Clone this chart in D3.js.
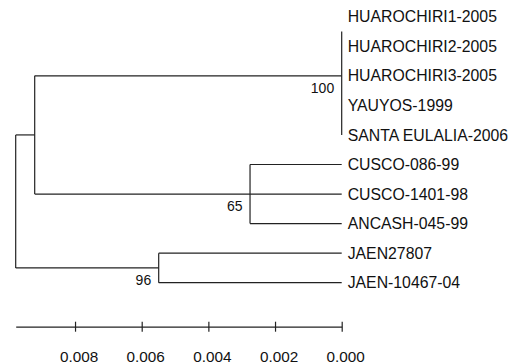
<!DOCTYPE html>
<html>
<head>
<meta charset="utf-8">
<script src="https://cdn.jsdelivr.net/npm/d3@7"></script>
<style>
  body { margin: 0; background: #fff; }
  svg { display: block; font-family: "Liberation Sans", Arial, sans-serif; }
</style>
</head>
<body>
<div id="chart"></div>
<script>

// leaves, top to bottom
const leafNames = [
    "HUAROCHIRI1-2005", "HUAROCHIRI2-2005", "HUAROCHIRI3-2005", "YAUYOS-1999",
    "SANTA EULALIA-2006", "CUSCO-086-99", "CUSCO-1401-98", "ANCASH-045-99",
    "JAEN27807", "JAEN-10467-04"
];

// internal nodes (height = distance to the tips)
const cladeIds      = ["root", "andes", "huaro", "cusco", "jaen"];
const cladeHeights  = [0.00978, 0.00921, 0.0, 0.00275, 0.00549];
const cladeChildren = [["andes", "jaen"], ["huaro", "cusco"], [0, 1, 2, 3, 4], [5, 6, 7], [8, 9]];
const cladeSupport  = [null, null, 100, 65, 96];

const scaleTicks = [0.008, 0.006, 0.004, 0.002, 0.000];

const width = 525, height = 364;

const svg = d3.select("#chart").append("svg")
    .attr("width", width)
    .attr("height", height);

// x: distance back from the tips
const x = d3.scaleLinear([cladeHeights[0], 0], [15.7, 341.7]);
const y = d3.scalePoint(leafNames, [16.7, 282.7]);

// node positions
const pos = {};
leafNames.forEach((name, i) => { pos[i] = { x: x(0), y: y(name) }; });

function place(id) {
    const k = cladeIds.indexOf(id);
    const kids = cladeChildren[k];
    kids.forEach(c => { if (typeof c === "string") place(c); });
    const ys = kids.map(c => pos[c].y);
    pos[id] = { x: x(cladeHeights[k]), y: (ys[0] + ys[ys.length - 1]) / 2 };
}
place("root");

const tree = svg.append("g")
    .attr("fill", "none")
    .attr("stroke", "#222")
    .attr("stroke-width", 1.2);

cladeIds.forEach((id, k) => {
    const p = pos[id];
    const kids = cladeChildren[k];
    let top = pos[kids[0]].y;
    const bottom = pos[kids[kids.length - 1]].y;
    // zero length polytomy: MEGA starts the bar under the first tip
    if (cladeHeights[k] === 0) top = (pos[kids[0]].y + pos[kids[1]].y) / 2;

    tree.append("line")
        .attr("x1", p.x).attr("x2", p.x)
        .attr("y1", top).attr("y2", bottom);

    kids.forEach(c => {
        if (pos[c].x > p.x) {
            tree.append("line")
                .attr("x1", p.x).attr("x2", pos[c].x)
                .attr("y1", pos[c].y).attr("y2", pos[c].y);
        }
    });
});

// tip labels
svg.append("g").selectAll("text")
    .data(leafNames)
    .join("text")
    .attr("x", x(0) + 6)
    .attr("y", d => y(d))
    .attr("dy", "0.36em")
    .attr("font-size", 15.8)
    .attr("fill", "#111")
    .text(d => d);

// bootstrap values
svg.append("g").selectAll("text")
    .data(cladeIds.filter((id, k) => cladeSupport[k] !== null))
    .join("text")
    .attr("x", d => pos[d].x - 7.5)
    .attr("y", d => pos[d].y + 12)
    .attr("dy", "0.36em")
    .attr("text-anchor", "end")
    .attr("font-size", 14)
    .attr("fill", "#111")
    .text(d => cladeSupport[cladeIds.indexOf(d)]);

// scale bar
const axis = d3.axisBottom(x)
    .tickValues(scaleTicks)
    .tickSize(5)
    .tickSizeOuter(0)
    .tickFormat(d3.format(".3f"));

const axisG = svg.append("g")
    .attr("transform", "translate(0, 326.7)")
    .call(axis);

axisG.select(".domain").attr("stroke", "#222").attr("stroke-width", 1.2);
axisG.selectAll(".tick line")
    .attr("y1", -5).attr("y2", 5)
    .attr("stroke", "#222").attr("stroke-width", 1.2);
axisG.selectAll(".tick text")
    .attr("y", 29.6)
    .attr("dy", "0.36em")
    .attr("dx", 3.5)
    .attr("font-size", 15.3)
    .attr("font-family", "'Liberation Sans', Arial, sans-serif")
    .attr("fill", "#111");

</script>
</body>
</html>
